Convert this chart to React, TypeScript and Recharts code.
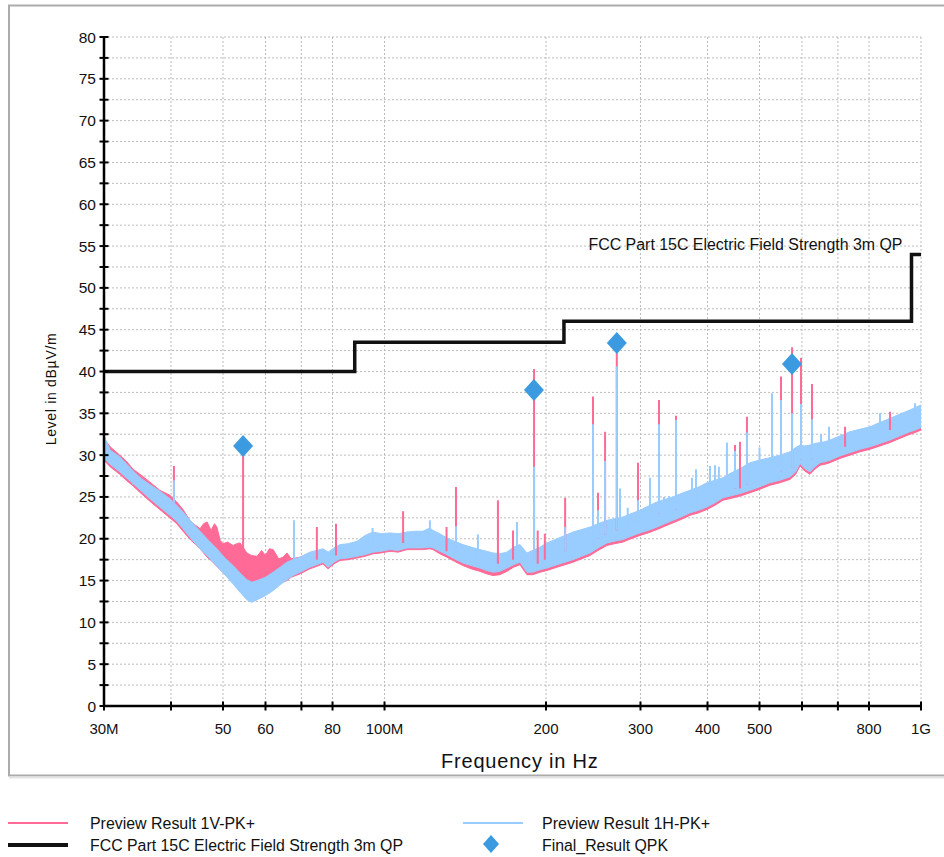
import React from 'react';
import { ComposedChart, Area, Line, Scatter, XAxis, YAxis, CartesianGrid, LabelList } from 'recharts';

const FONT = '"Liberation Sans", Arial, Helvetica, sans-serif';
const PINK = '#FF6A96';
const BLUE = '#99CCFF';
const DIAMOND = '#3C9BE0';

// ---- axis ticks ----
const X_TICKS = [30, 40, 50, 60, 70, 80, 100, 200, 300, 400, 500, 600, 700, 800, 1000];
const X_TICK_LABELS = ['30M', '', '50', '60', '', '80', '100M', '200', '300', '400', '500', '', '', '800', '1G'];
const Y_TICKS = [0, 2.5, 5, 7.5, 10, 12.5, 15, 17.5, 20, 22.5, 25, 27.5, 30, 32.5, 35, 37.5, 40, 42.5, 45, 47.5, 50, 52.5, 55, 57.5, 60, 62.5, 65, 67.5, 70, 72.5, 75, 77.5, 80];

// ---- Preview Result 1H-PK+ (band envelope, MHz / dBµV/m) ----
const H_FREQ = [30, 30.8, 32.1, 33.0, 34.0, 35.2, 36.5, 38.1, 39.8, 41.0, 42.1, 43.6, 45.3, 47.0, 48.7, 50.4, 52.2, 53.8, 55.4, 56.6, 57.9, 60.0, 62.0, 63.9, 65.8, 67.5, 69.6, 72.6, 74.8, 76.8, 78.5, 80.5, 82.6, 85.5, 88.9, 92.0, 95.2, 98.5, 102.4, 106.0, 110.1, 114.0, 117.9, 121.5, 123.1, 126.8, 130.7, 135.0, 140.0, 145.0, 150.6, 155.0, 159.3, 164.0, 169.1, 174.0, 178.9, 181.5, 184.3, 189.0, 194.9, 200.8, 209.7, 217.1, 224.6, 233.0, 241.6, 250.0, 259.9, 268.0, 278.3, 288.0, 299.4, 310.0, 322.0, 333.0, 344.9, 357.0, 371.0, 385.0, 399.1, 413.0, 427.4, 440.5, 460.0, 480.0, 500.0, 523.0, 546.0, 569.9, 584.0, 594.9, 607.0, 621.0, 634.0, 648.2, 662.0, 676.7, 706.0, 737.4, 770.0, 803.4, 838.6, 875.3, 913.0, 953.9, 976.0, 1000];
const H_LO = [29.6, 28.9, 28.0, 27.3, 26.6, 25.7, 24.8, 23.8, 22.8, 22.1, 21.2, 20.0, 18.8, 17.8, 16.7, 15.7, 14.6, 13.6, 12.7, 12.4, 12.7, 13.2, 13.8, 14.5, 15.1, 15.6, 16.0, 16.6, 16.9, 17.2, 16.6, 17.2, 17.6, 17.7, 17.9, 18.1, 18.4, 18.5, 18.7, 18.6, 18.9, 18.9, 18.9, 19.0, 18.9, 18.5, 18.1, 17.6, 17.1, 16.8, 16.5, 16.2, 16.0, 16.1, 16.5, 16.9, 17.2, 16.6, 16.0, 16.0, 16.3, 16.5, 16.9, 17.2, 17.5, 17.9, 18.3, 18.9, 19.5, 19.7, 19.9, 20.3, 20.7, 21.0, 21.4, 21.8, 22.2, 22.6, 23.1, 23.4, 23.8, 24.3, 24.9, 25.1, 25.4, 25.8, 26.2, 26.7, 27.0, 27.4, 28.0, 29.0, 28.4, 28.0, 28.6, 29.1, 29.2, 29.4, 29.9, 30.3, 30.7, 31.0, 31.4, 31.8, 32.3, 32.8, 33.0, 33.3];
const H_HI = [32.3, 30.6, 29.8, 29.0, 28.1, 27.2, 26.5, 25.7, 24.8, 24.0, 23.2, 22.1, 20.9, 19.8, 18.8, 17.7, 16.8, 15.9, 15.1, 14.8, 15.0, 15.4, 16.0, 16.6, 17.2, 17.5, 17.8, 18.4, 18.6, 18.8, 18.4, 18.9, 19.3, 19.4, 19.7, 20.4, 20.8, 20.6, 20.7, 20.6, 20.8, 20.9, 20.9, 21.3, 21.0, 20.6, 20.1, 19.7, 19.3, 19.0, 18.7, 18.5, 18.3, 18.2, 18.4, 19.0, 19.3, 18.8, 18.3, 18.6, 19.0, 19.5, 20.0, 20.4, 20.8, 21.1, 21.4, 21.8, 22.2, 22.4, 22.6, 23.0, 23.4, 23.9, 24.4, 24.7, 25.0, 25.4, 25.8, 26.2, 26.7, 27.0, 27.3, 27.8, 28.4, 29.1, 29.4, 29.7, 30.0, 30.4, 30.9, 31.2, 31.1, 31.2, 31.4, 31.5, 31.6, 31.8, 32.3, 32.8, 33.1, 33.4, 33.9, 34.4, 34.9, 35.4, 35.7, 36.0];

// ---- Preview Result 1V-PK+ (band envelope) ----
const V_FREQ = [30, 30.8, 32.1, 33.0, 34.0, 35.2, 36.5, 38.1, 39.8, 41.0, 42.1, 43.6, 44.7, 45.3, 46.0, 46.7, 47.5, 48.2, 48.7, 49.4, 50.0, 51.0, 52.2, 53.0, 53.8, 55.4, 56.5, 57.9, 59.0, 60.0, 61.0, 62.0, 63.5, 64.7, 65.8, 67.0, 69.6, 72.6, 74.8, 76.8, 78.5, 80.5, 82.6, 85.5, 88.9, 92.0, 95.2, 98.5, 102.4, 106.0, 110.1, 114.0, 117.9, 121.5, 123.1, 126.8, 130.7, 135.0, 140.0, 145.0, 150.6, 155.0, 159.3, 164.0, 169.1, 174.0, 178.9, 181.5, 184.3, 189.0, 194.9, 200.8, 209.7, 217.1, 224.6, 233.0, 241.6, 250.0, 259.9, 268.0, 278.3, 288.0, 299.4, 310.0, 322.0, 333.0, 344.9, 357.0, 371.0, 385.0, 399.1, 413.0, 427.4, 440.5, 460.0, 480.0, 500.0, 523.0, 546.0, 569.9, 584.0, 594.9, 607.0, 621.0, 634.0, 648.2, 662.0, 676.7, 706.0, 737.4, 770.0, 803.4, 838.6, 875.3, 913.0, 953.9, 976.0, 1000];
const V_LO = [29.4, 28.6, 27.7, 27.0, 26.3, 25.4, 24.5, 23.5, 22.5, 21.8, 20.9, 19.8, 19.2, 18.8, 18.3, 17.8, 17.4, 17.0, 16.7, 16.3, 16.0, 15.4, 14.8, 14.3, 13.9, 13.2, 12.9, 13.1, 13.4, 13.6, 13.9, 14.2, 14.6, 14.8, 15.0, 15.4, 15.8, 16.4, 16.7, 17.0, 16.4, 17.0, 17.4, 17.5, 17.7, 17.9, 18.2, 18.3, 18.5, 18.4, 18.7, 18.7, 18.7, 18.8, 18.7, 18.2, 17.8, 17.3, 16.8, 16.4, 16.1, 15.8, 15.6, 15.7, 16.1, 16.6, 16.9, 16.3, 15.7, 15.7, 16.0, 16.2, 16.6, 16.9, 17.2, 17.6, 18.0, 18.6, 19.2, 19.4, 19.6, 20.0, 20.4, 20.7, 21.1, 21.5, 21.9, 22.3, 22.8, 23.1, 23.5, 24.0, 24.6, 24.8, 25.1, 25.5, 25.9, 26.4, 26.7, 27.1, 27.7, 28.7, 28.1, 27.7, 28.3, 28.8, 28.9, 29.1, 29.6, 30.0, 30.4, 30.7, 31.1, 31.5, 32.0, 32.5, 32.7, 33.0];
const V_HI = [32.0, 31.0, 30.0, 29.3, 28.3, 27.6, 26.8, 25.8, 25.2, 24.4, 23.5, 22.0, 21.5, 21.2, 21.8, 22.0, 21.0, 21.8, 21.4, 19.8, 19.4, 19.6, 19.2, 19.4, 19.5, 18.3, 18.0, 17.9, 18.6, 18.0, 18.8, 18.7, 17.6, 17.8, 18.3, 17.6, 17.8, 18.3, 18.4, 18.6, 18.2, 18.7, 19.1, 19.2, 19.5, 20.1, 20.5, 20.4, 20.5, 20.4, 20.6, 20.7, 20.7, 21.0, 20.8, 20.4, 19.9, 19.5, 19.1, 18.8, 18.5, 18.3, 18.1, 18.0, 18.2, 18.8, 19.1, 18.6, 18.1, 18.6, 18.8, 19.3, 19.8, 20.2, 20.6, 20.9, 21.2, 21.6, 22.0, 22.2, 22.4, 22.8, 23.2, 23.7, 24.2, 24.5, 24.8, 25.2, 25.6, 26.0, 26.5, 26.8, 27.1, 27.6, 28.2, 28.9, 29.2, 29.5, 29.8, 30.2, 30.7, 31.0, 30.9, 31.0, 31.2, 31.3, 31.4, 31.6, 32.1, 32.6, 32.9, 33.2, 33.7, 34.2, 34.7, 35.2, 35.5, 35.8];

// ---- narrow-band spikes ----
const V_SPIKE_FREQ = [40.5, 54.5, 74.8, 81.2, 108.3, 130.5, 135.9, 162.7, 173.6, 190.0, 193.0, 199.0, 217.1, 244.7, 250.0, 257.7, 271.0, 296.8, 324.8, 349.4, 450.1, 459.8, 473.8, 548.3, 575.0, 597.5, 626.3, 721.8, 875.3];
const V_SPIKE_BASE = [24.0, 17.0, 17.5, 18.0, 19.5, 18.5, 18.5, 17.0, 17.5, 17.5, 17.0, 17.5, 18.5, 19.5, 20.0, 20.5, 21.0, 22.0, 23.0, 23.5, 26.0, 26.0, 26.5, 28.0, 28.5, 29.5, 29.5, 31.0, 33.0];
const V_SPIKE_PEAK = [28.7, 31.0, 21.4, 21.8, 23.3, 21.4, 26.2, 24.6, 21.0, 40.3, 21.0, 20.6, 24.9, 37.0, 25.5, 32.8, 42.2, 29.1, 36.6, 34.7, 31.2, 31.6, 34.6, 39.4, 42.9, 41.6, 38.5, 33.4, 35.2];

const H_SPIKE_FREQ = [34.0, 40.5, 67.8, 95.0, 121.5, 135.9, 149.3, 176.6, 190.0, 217.1, 244.7, 250.0, 257.7, 271.0, 274.8, 284.0, 296.8, 312.5, 324.8, 331.8, 339.0, 349.4, 374.2, 380.7, 404.3, 413.0, 420.0, 434.8, 450.1, 473.8, 500.0, 527.5, 548.3, 575.0, 597.5, 626.3, 651.0, 673.8, 838.6, 974.6];
const H_SPIKE_BASE = [26.5, 23.5, 16.5, 19.0, 19.5, 18.0, 17.0, 17.5, 17.0, 18.5, 19.5, 20.0, 20.5, 21.0, 21.5, 21.5, 22.0, 22.5, 23.0, 23.0, 23.5, 23.5, 24.0, 24.0, 25.0, 25.5, 25.5, 25.5, 26.0, 26.5, 27.0, 27.5, 28.0, 28.5, 29.5, 29.5, 30.0, 30.0, 32.5, 33.5];
const H_SPIKE_PEAK = [28.0, 27.0, 22.2, 21.3, 22.2, 21.5, 20.5, 22.0, 28.6, 21.4, 33.7, 23.4, 29.3, 40.6, 26.0, 23.7, 24.6, 27.3, 33.7, 25.0, 25.1, 34.2, 27.3, 28.3, 28.7, 28.8, 28.6, 31.5, 30.5, 32.7, 30.9, 37.4, 36.6, 35.0, 36.1, 34.3, 32.5, 33.4, 35.0, 36.2];

// ---- limit line ----
const LIMIT_NAME = 'FCC Part 15C Electric Field Strength 3m QP';
const LIMIT_FREQ = [30, 88, 88, 216, 216, 960, 960, 1000];
const LIMIT_LEVEL = [40, 40, 43.5, 43.5, 46, 46, 54, 54];
const LIMIT_LABEL_INDEX = 6;

// ---- final results ----
const FINAL_FREQ = [54.5, 189.9, 271.0, 574.8];
const FINAL_LEVEL = [31.1, 37.8, 43.4, 40.9];

// ---- tables built from arrays ----
const hBand = H_FREQ.map((f, i) => ({ f, range: [H_LO[i], H_HI[i]] }));
const vBand = V_FREQ.map((f, i) => ({ f, range: [V_LO[i], V_HI[i]] }));
const spikeTable = (freqs: number[], base: number[], peak: number[]) =>
  freqs.flatMap((f, i) => [
    { f, v: base[i] },
    { f, v: peak[i] },
    { f, v: null as number | null },
  ]);
const vSpikes = spikeTable(V_SPIKE_FREQ, V_SPIKE_BASE, V_SPIKE_PEAK);
const hSpikes = spikeTable(H_SPIKE_FREQ, H_SPIKE_BASE, H_SPIKE_PEAK);
const limitTable = LIMIT_FREQ.map((f, i) => ({ f, v: LIMIT_LEVEL[i], name: i === LIMIT_LABEL_INDEX ? LIMIT_NAME : '' }));
const finalTable = FINAL_FREQ.map((f, i) => ({ f, v: FINAL_LEVEL[i] }));

const renderXTick = (props: any) => {
  const { x, y, payload } = props;
  const idx = X_TICKS.indexOf(payload.value);
  const label = idx >= 0 ? X_TICK_LABELS[idx] : '';
  return (
    <g>
      <line x1={x} x2={x} y1={y - 4.5} y2={y + 4.5} stroke="#000" strokeWidth={2} />
      {label ? (
        <text x={x} y={y + 28} textAnchor="middle" fontFamily={FONT} fontSize={15} fill="#111">
          {label}
        </text>
      ) : null}
    </g>
  );
};

const renderYTick = (props: any) => {
  const { x, y, payload } = props;
  const v = payload.value as number;
  const show = v % 5 === 0;
  return (
    <g>
      <line x1={x - 4.5} x2={x + 4.5} y1={y} y2={y} stroke="#000" strokeWidth={2} />
      {show ? (
        <text x={x - 8} y={y + 5.5} textAnchor="end" fontFamily={FONT} fontSize={15.5} fill="#111">
          {v}
        </text>
      ) : null}
    </g>
  );
};

const renderLimitLabel = (p: any) => {
  if (!p.value) return null;
  return (
    <text x={p.x - 9} y={p.y - 4.5} textAnchor="end" fontFamily={FONT} fontSize={16} fill="#111" textLength={314} lengthAdjust="spacingAndGlyphs">
      {p.value}
    </text>
  );
};

const Diamond = (props: any) => {
  const { cx, cy } = props;
  if (cx == null || cy == null) return <g />;
  return <polygon points={`${cx},${cy - 11} ${cx + 10},${cy} ${cx},${cy + 11} ${cx - 10},${cy}`} fill={DIAMOND} />;
};

export default function App() {
  return (
    <div style={{ position: 'absolute', left: 0, top: 0, width: 944, height: 857, background: '#fff' }}>
      <svg width={944} height={857} style={{ position: 'absolute', left: 0, top: 0 }}>
        <rect x={9} y={5.5} width={945} height={770} fill="#fff" stroke="#ababab" strokeWidth={2} />
        <line x1={9} x2={944} y1={777.5} y2={777.5} stroke="#e4e4e4" strokeWidth={2} />
        <text
          x={56}
          y={389}
          transform="rotate(-90, 56, 389)"
          textAnchor="middle"
          fontFamily={FONT}
          fontSize={14}
          letterSpacing={0.7}
          fill="#111"
        >
          Level in dBµV/m
        </text>
        <text x={441} y={768} fontFamily={FONT} fontSize={20} letterSpacing={0.8} fill="#111">
          Frequency in Hz
        </text>
        {/* legend */}
        <line x1={8} x2={68} y1={823} y2={823} stroke={PINK} strokeWidth={2} />
        <text x={90} y={829} fontFamily={FONT} fontSize={16} fill="#111" textLength={165} lengthAdjust="spacingAndGlyphs">
          Preview Result 1V-PK+
        </text>
        <line x1={8} x2={68} y1={845} y2={845} stroke="#111" strokeWidth={4} />
        <text x={90} y={851} fontFamily={FONT} fontSize={16} fill="#111" textLength={313} lengthAdjust="spacingAndGlyphs">
          {LIMIT_NAME}
        </text>
        <line x1={463} x2={523} y1={823} y2={823} stroke={BLUE} strokeWidth={2} />
        <text x={542} y={829} fontFamily={FONT} fontSize={16} fill="#111" textLength={168} lengthAdjust="spacingAndGlyphs">
          Preview Result 1H-PK+
        </text>
        <polygon points="491,835 499,844 491,853 483,844" fill={DIAMOND} />
        <text x={542} y={851} fontFamily={FONT} fontSize={16} fill="#111" textLength={126} lengthAdjust="spacingAndGlyphs">
          Final_Result QPK
        </text>
      </svg>
      <div style={{ position: 'absolute', left: 0, top: 0 }}>
        <ComposedChart width={944} height={857} margin={{ top: 37, right: 23, bottom: 121, left: 44 }}>
          <CartesianGrid stroke="#bcbcbc" strokeDasharray="2 2" strokeWidth={1} />
          <XAxis
            dataKey="f"
            type="number"
            scale="log"
            domain={[30, 1000]}
            ticks={X_TICKS}
            interval={0}
            height={30}
            tickSize={0}
            tickMargin={0}
            tickLine={false}
            axisLine={{ stroke: '#000', strokeWidth: 2.5 }}
            tick={renderXTick}
            allowDataOverflow
          />
          <YAxis
            type="number"
            domain={[0, 80]}
            ticks={Y_TICKS}
            interval={0}
            width={60}
            tickSize={0}
            tickMargin={0}
            tickLine={false}
            axisLine={{ stroke: '#000', strokeWidth: 2.5 }}
            tick={renderYTick}
            allowDataOverflow
          />
          <Area data={vBand} dataKey="range" type="linear" stroke={PINK} strokeWidth={1} fill={PINK} fillOpacity={1} dot={false} activeDot={false} isAnimationActive={false} />
          <Line data={vSpikes} dataKey="v" type="linear" stroke={PINK} strokeWidth={2} dot={false} activeDot={false} connectNulls={false} isAnimationActive={false} />
          <Area data={hBand} dataKey="range" type="linear" stroke={BLUE} strokeWidth={1} fill={BLUE} fillOpacity={1} dot={false} activeDot={false} isAnimationActive={false} />
          <Line data={hSpikes} dataKey="v" type="linear" stroke={BLUE} strokeWidth={2} dot={false} activeDot={false} connectNulls={false} isAnimationActive={false} />
          <Line data={limitTable} dataKey="v" type="linear" stroke="#111" strokeWidth={3.5} dot={false} activeDot={false} isAnimationActive={false}>
            <LabelList dataKey="name" content={renderLimitLabel} />
          </Line>
          <Scatter data={finalTable} dataKey="v" shape={Diamond} isAnimationActive={false} />
        </ComposedChart>
      </div>
    </div>
  );
}
